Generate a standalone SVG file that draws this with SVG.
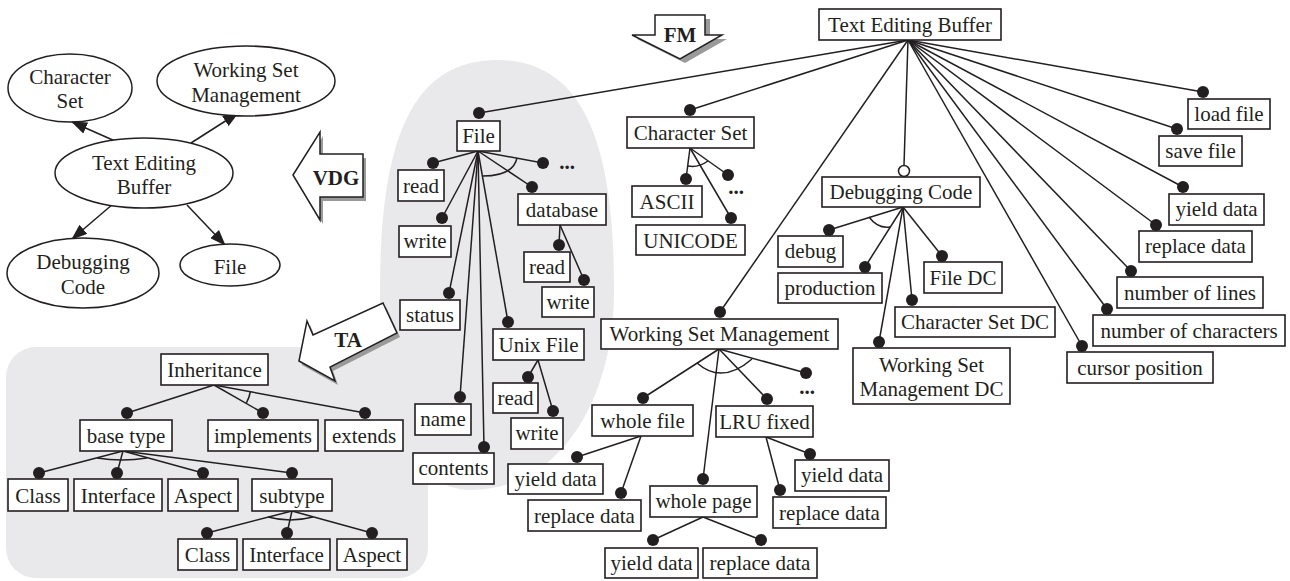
<svg xmlns="http://www.w3.org/2000/svg" width="1290" height="581" viewBox="0 0 1290 581">
<style>
.bg{fill:#e9e9eb}
.box{fill:#fff;stroke:#231f20;stroke-width:1.6}
.el{fill:#fff;stroke:#231f20;stroke-width:1.5}
.t{font-family:'Liberation Serif','DejaVu Serif',serif;font-size:21px;fill:#231f20;text-anchor:middle}
.b{font-weight:bold}
.ln{stroke:#231f20;stroke-width:1.5;fill:none}
.dot{fill:#231f20}
.hol{fill:#fff;stroke:#231f20;stroke-width:1.5}
.sh{fill:#9a9a9a}
.ar{fill:#fff;stroke:#231f20;stroke-width:1.5;stroke-linejoin:miter}
</style>
<defs>
<marker id="ah" viewBox="0 0 16 12" refX="15" refY="6" markerWidth="16" markerHeight="12" markerUnits="userSpaceOnUse" orient="auto"><path d="M0,0 L16,6 L0,12 Z" fill="#231f20"/></marker>
</defs>

<g id="background">
<path class="bg" d="M497,60 C587,60 614,150 614,290 C614,400 560,490 470,490 C410,490 380,400 380,290 C380,150 407,60 497,60 Z"/>
<rect class="bg" x="6" y="347" width="422" height="231" rx="30"/>
</g>

<g id="big-arrows">
<g id="arrow-fm">
<polygon class="sh" points="660,19 710,19 710,39 727,39 685,63 637,39 660,39"/>
<polygon class="ar" points="655,15 705,15 705,35 722,35 680,59 632,35 655,35"/>
<text class="t b" x="680" y="42" font-family="Liberation Serif, serif">FM</text>
</g>
<g id="arrow-vdg">
<polygon class="sh" points="296,179 323,136 323,158 366,158 366,201 323,201 323,224"/>
<polygon class="ar" points="293,175 320,132 320,154 363,154 363,197 320,197 320,220"/>
<text class="t b" x="336" y="185">VDG</text>
</g>
<g id="arrow-ta">
<polygon class="sh" points="302,365 310,325 316,339 386,307 400,337 333,371 338,385"/>
<polygon class="ar" points="299,361 307,321 313,335 383,303 397,333 330,367 335,381"/>
<text class="t b" x="348" y="347">TA</text>
</g>
</g>

<g id="connectors">
<line class="ln" x1="115" y1="141" x2="72" y2="122" marker-end="url(#ah)"/>
<line class="ln" x1="191" y1="143" x2="238" y2="113" marker-end="url(#ah)"/>
<line class="ln" x1="113" y1="204" x2="72" y2="239" marker-end="url(#ah)"/>
<line class="ln" x1="187" y1="205" x2="225" y2="245" marker-end="url(#ah)"/>
<line class="ln" x1="908" y1="40" x2="479" y2="113"/>
<line class="ln" x1="908" y1="40" x2="690" y2="110"/>
<line class="ln" x1="908" y1="40" x2="720" y2="312"/>
<line class="ln" x1="908" y1="40" x2="904" y2="165"/>
<line class="ln" x1="908" y1="40" x2="1203" y2="92"/>
<line class="ln" x1="908" y1="40" x2="1177" y2="129"/>
<line class="ln" x1="908" y1="40" x2="1183" y2="187"/>
<line class="ln" x1="908" y1="40" x2="1156" y2="225"/>
<line class="ln" x1="908" y1="40" x2="1131" y2="271"/>
<line class="ln" x1="908" y1="40" x2="1107" y2="309"/>
<line class="ln" x1="908" y1="40" x2="1082" y2="346"/>
<line class="ln" x1="478" y1="151" x2="433" y2="163"/>
<line class="ln" x1="478" y1="151" x2="442" y2="218"/>
<line class="ln" x1="478" y1="151" x2="449" y2="293"/>
<line class="ln" x1="478" y1="151" x2="460" y2="397"/>
<line class="ln" x1="478" y1="151" x2="484" y2="447"/>
<line class="ln" x1="478" y1="151" x2="508" y2="322"/>
<line class="ln" x1="478" y1="151" x2="532" y2="187"/>
<line class="ln" x1="478" y1="151" x2="543" y2="163"/>
<path class="ln" d="M483,176 Q513,176 517,158"/>
<line class="ln" x1="560" y1="225" x2="559" y2="245"/>
<line class="ln" x1="560" y1="225" x2="584" y2="280"/>
<line class="ln" x1="538" y1="360" x2="528" y2="377"/>
<line class="ln" x1="538" y1="360" x2="553" y2="411"/>
<line class="ln" x1="690" y1="148" x2="686" y2="179"/>
<line class="ln" x1="690" y1="148" x2="728" y2="175"/>
<line class="ln" x1="690" y1="148" x2="731" y2="218"/>
<path class="ln" d="M688,166 Q698,168 708,161"/>
<line class="ln" x1="719" y1="349" x2="643" y2="398"/>
<line class="ln" x1="719" y1="349" x2="703" y2="479"/>
<line class="ln" x1="719" y1="349" x2="767" y2="399"/>
<line class="ln" x1="719" y1="349" x2="806" y2="373"/>
<path class="ln" d="M697,363 Q722,385 752,359"/>
<line class="ln" x1="641" y1="436" x2="577" y2="457"/>
<line class="ln" x1="641" y1="436" x2="621" y2="493"/>
<line class="ln" x1="703" y1="517" x2="653" y2="540"/>
<line class="ln" x1="703" y1="517" x2="761" y2="540"/>
<line class="ln" x1="766" y1="437" x2="810" y2="454"/>
<line class="ln" x1="766" y1="437" x2="780" y2="490"/>
<line class="ln" x1="903" y1="207" x2="829" y2="230"/>
<line class="ln" x1="903" y1="207" x2="865" y2="267"/>
<line class="ln" x1="903" y1="207" x2="879" y2="342"/>
<line class="ln" x1="903" y1="207" x2="912" y2="300"/>
<line class="ln" x1="903" y1="207" x2="942" y2="256"/>
<path class="ln" d="M869,217 Q878,229 890,227"/>
<line class="ln" x1="214" y1="385" x2="127" y2="413"/>
<line class="ln" x1="214" y1="385" x2="263" y2="413"/>
<line class="ln" x1="214" y1="385" x2="365" y2="413"/>
<path class="ln" d="M246.4,402.9 A37,37 0 0 0 250.4,391.5"/>
<line class="ln" x1="123" y1="451" x2="39" y2="473"/>
<line class="ln" x1="123" y1="451" x2="117" y2="473"/>
<line class="ln" x1="123" y1="451" x2="203" y2="473"/>
<line class="ln" x1="123" y1="451" x2="292" y2="473"/>
<path class="ln" d="M97,458 Q122,462 147,458"/>
<line class="ln" x1="292" y1="511" x2="207" y2="533"/>
<line class="ln" x1="292" y1="511" x2="287" y2="533"/>
<line class="ln" x1="292" y1="511" x2="372" y2="533"/>
<path class="ln" d="M268,517 Q290,523 313,517"/>
<circle class="dot" cx="479" cy="113" r="6"/>
<circle class="dot" cx="690" cy="110" r="6"/>
<circle class="dot" cx="720" cy="312" r="6"/>
<circle class="hol" cx="904" cy="171" r="5.5"/>
<circle class="dot" cx="1203" cy="92" r="6"/>
<circle class="dot" cx="1177" cy="129" r="6"/>
<circle class="dot" cx="1183" cy="187" r="6"/>
<circle class="dot" cx="1156" cy="225" r="6"/>
<circle class="dot" cx="1131" cy="271" r="6"/>
<circle class="dot" cx="1107" cy="309" r="6"/>
<circle class="dot" cx="1082" cy="346" r="6"/>
<circle class="dot" cx="433" cy="163" r="6"/>
<circle class="dot" cx="442" cy="218" r="6"/>
<circle class="dot" cx="449" cy="293" r="6"/>
<circle class="dot" cx="460" cy="397" r="6"/>
<circle class="dot" cx="484" cy="447" r="6"/>
<circle class="dot" cx="508" cy="322" r="6"/>
<circle class="dot" cx="532" cy="187" r="6"/>
<circle class="dot" cx="543" cy="163" r="6"/>
<circle class="dot" cx="559" cy="245" r="6"/>
<circle class="dot" cx="584" cy="280" r="6"/>
<circle class="dot" cx="528" cy="377" r="6"/>
<circle class="dot" cx="553" cy="411" r="6"/>
<circle class="dot" cx="686" cy="179" r="6"/>
<circle class="dot" cx="728" cy="175" r="6"/>
<circle class="dot" cx="731" cy="218" r="6"/>
<circle class="dot" cx="643" cy="398" r="6"/>
<circle class="dot" cx="703" cy="479" r="6"/>
<circle class="dot" cx="767" cy="399" r="6"/>
<circle class="dot" cx="806" cy="373" r="6"/>
<circle class="dot" cx="577" cy="457" r="6"/>
<circle class="dot" cx="621" cy="493" r="6"/>
<circle class="dot" cx="653" cy="540" r="6"/>
<circle class="dot" cx="761" cy="540" r="6"/>
<circle class="dot" cx="810" cy="454" r="6"/>
<circle class="dot" cx="780" cy="490" r="6"/>
<circle class="dot" cx="829" cy="230" r="6"/>
<circle class="dot" cx="865" cy="267" r="6"/>
<circle class="dot" cx="879" cy="342" r="6"/>
<circle class="dot" cx="912" cy="300" r="6"/>
<circle class="dot" cx="942" cy="256" r="6"/>
<circle class="dot" cx="127" cy="413" r="6"/>
<circle class="dot" cx="263" cy="413" r="6"/>
<circle class="dot" cx="365" cy="413" r="6"/>
<circle class="dot" cx="39" cy="473" r="6"/>
<circle class="dot" cx="117" cy="473" r="6"/>
<circle class="dot" cx="203" cy="473" r="6"/>
<circle class="dot" cx="292" cy="473" r="6"/>
<circle class="dot" cx="207" cy="533" r="6"/>
<circle class="dot" cx="287" cy="533" r="6"/>
<circle class="dot" cx="372" cy="533" r="6"/>
</g>

<g id="vdg-nodes">
<g id="vdg-character-set"><ellipse class="el" cx="70" cy="88" rx="62" ry="34"/><text class="t" x="70" y="84">Character</text><text class="t" x="70" y="108">Set</text></g>
<g id="vdg-working-set"><ellipse class="el" cx="246" cy="81" rx="89" ry="35"/><text class="t" x="246" y="77">Working Set</text><text class="t" x="246" y="102">Management</text></g>
<g id="vdg-text-editing-buffer"><ellipse class="el" cx="144" cy="173" rx="89" ry="35"/><text class="t" x="144" y="170">Text Editing</text><text class="t" x="144" y="194">Buffer</text></g>
<g id="vdg-debugging-code"><ellipse class="el" cx="83" cy="273" rx="76" ry="35"/><text class="t" x="83" y="269">Debugging</text><text class="t" x="83" y="294">Code</text></g>
<g id="vdg-file"><ellipse class="el" cx="230" cy="265" rx="50" ry="21"/><text class="t" x="230" y="274">File</text></g>
</g>

<g id="fm-nodes">
<g id="n-teb"><rect class="box" x="819" y="9" width="182" height="31"/><text class="t" x="910" y="32">Text Editing Buffer</text></g>
<g id="n-file"><rect class="box" x="457" y="121" width="43" height="30"/><text class="t" x="478.5" y="143">File</text></g>
<g id="n-file-read"><rect class="box" x="398" y="170" width="46" height="31"/><text class="t" x="421" y="193">read</text></g>
<g id="n-file-write"><rect class="box" x="399" y="226" width="52" height="31"/><text class="t" x="425" y="248">write</text></g>
<g id="n-file-status"><rect class="box" x="400" y="300" width="60" height="30"/><text class="t" x="430" y="322">status</text></g>
<g id="n-file-name"><rect class="box" x="415" y="404" width="56" height="31"/><text class="t" x="443" y="426">name</text></g>
<g id="n-file-contents"><rect class="box" x="413" y="453" width="81" height="31"/><text class="t" x="453.5" y="475">contents</text></g>
<g id="n-file-unix"><rect class="box" x="493" y="329" width="91" height="31"/><text class="t" x="538.5" y="352">Unix File</text></g>
<g id="n-file-database"><rect class="box" x="518" y="194" width="88" height="31"/><text class="t" x="562" y="217">database</text></g>
<g id="n-db-read"><rect class="box" x="524" y="252" width="46" height="30"/><text class="t" x="547" y="274">read</text></g>
<g id="n-db-write"><rect class="box" x="542" y="287" width="52" height="30"/><text class="t" x="568" y="309">write</text></g>
<g id="n-unix-read"><rect class="box" x="493" y="383" width="45" height="30"/><text class="t" x="515.5" y="405">read</text></g>
<g id="n-unix-write"><rect class="box" x="511" y="418" width="52" height="31"/><text class="t" x="537" y="440">write</text></g>
<g id="n-file-more"><text class="t b" x="567" y="169">...</text></g>
<g id="n-cs"><rect class="box" x="627" y="117" width="127" height="31"/><text class="t" x="690.5" y="140">Character Set</text></g>
<g id="n-ascii"><rect class="box" x="632" y="186" width="70" height="31"/><text class="t" x="667" y="209">ASCII</text></g>
<g id="n-unicode"><rect class="box" x="636" y="225" width="109" height="30"/><text class="t" x="690.5" y="248">UNICODE</text></g>
<g id="n-cs-more"><text class="t b" x="736" y="194">...</text></g>
<g id="n-wsm"><rect class="box" x="601" y="319" width="237" height="30"/><text class="t" x="719.5" y="341">Working Set Management</text></g>
<g id="n-wsm-more"><text class="t b" x="807" y="394">...</text></g>
<g id="n-wholefile"><rect class="box" x="592" y="405" width="101" height="31"/><text class="t" x="642.5" y="428">whole file</text></g>
<g id="n-wf-yield"><rect class="box" x="508" y="464" width="95" height="30"/><text class="t" x="555.5" y="486">yield data</text></g>
<g id="n-wf-replace"><rect class="box" x="528" y="500" width="113" height="31"/><text class="t" x="584.5" y="523">replace data</text></g>
<g id="n-wholepage"><rect class="box" x="650" y="486" width="107" height="31"/><text class="t" x="703.5" y="508">whole page</text></g>
<g id="n-wp-yield"><rect class="box" x="605" y="548" width="93" height="30"/><text class="t" x="651.5" y="570">yield data</text></g>
<g id="n-wp-replace"><rect class="box" x="703" y="548" width="114" height="30"/><text class="t" x="760" y="570">replace data</text></g>
<g id="n-lru"><rect class="box" x="716" y="406" width="97" height="31"/><text class="t" x="764.5" y="429">LRU fixed</text></g>
<g id="n-lru-yield"><rect class="box" x="795" y="460" width="94" height="31"/><text class="t" x="842" y="482">yield data</text></g>
<g id="n-lru-replace"><rect class="box" x="773" y="497" width="113" height="31"/><text class="t" x="829.5" y="520">replace data</text></g>
<g id="n-dc"><rect class="box" x="822" y="177" width="158" height="30"/><text class="t" x="901" y="199">Debugging Code</text></g>
<g id="n-debug"><rect class="box" x="778" y="236" width="65" height="31"/><text class="t" x="810.5" y="258">debug</text></g>
<g id="n-production"><rect class="box" x="778" y="273" width="104" height="30"/><text class="t" x="830" y="295">production</text></g>
<g id="n-wsmdc"><rect class="box" x="853" y="348" width="157" height="56"/><text class="t" x="931.5" y="372">Working Set</text><text class="t" x="931.5" y="396">Management DC</text></g>
<g id="n-csdc"><rect class="box" x="895" y="307" width="160" height="30"/><text class="t" x="975" y="329">Character Set DC</text></g>
<g id="n-filedc"><rect class="box" x="924" y="262" width="78" height="31"/><text class="t" x="963" y="285">File DC</text></g>
<g id="n-loadfile"><rect class="box" x="1188" y="99" width="82" height="30"/><text class="t" x="1229" y="121">load file</text></g>
<g id="n-savefile"><rect class="box" x="1159" y="136" width="83" height="30"/><text class="t" x="1200.5" y="158">save file</text></g>
<g id="n-yield"><rect class="box" x="1169" y="194" width="95" height="31"/><text class="t" x="1216.5" y="216">yield data</text></g>
<g id="n-replace"><rect class="box" x="1139" y="231" width="113" height="31"/><text class="t" x="1195.5" y="253">replace data</text></g>
<g id="n-nlines"><rect class="box" x="1117" y="277" width="146" height="31"/><text class="t" x="1190" y="300">number of lines</text></g>
<g id="n-nchars"><rect class="box" x="1093" y="315" width="192" height="31"/><text class="t" x="1189" y="338">number of characters</text></g>
<g id="n-cursor"><rect class="box" x="1067" y="352" width="146" height="31"/><text class="t" x="1140" y="375">cursor position</text></g>
</g>

<g id="ta-nodes">
<g id="t-inheritance"><rect class="box" x="161" y="354" width="107" height="31"/><text class="t" x="214.5" y="377">Inheritance</text></g>
<g id="t-basetype"><rect class="box" x="80" y="420" width="92" height="31"/><text class="t" x="126" y="443">base type</text></g>
<g id="t-implements"><rect class="box" x="208" y="420" width="110" height="31"/><text class="t" x="263" y="443">implements</text></g>
<g id="t-extends"><rect class="box" x="325" y="420" width="78" height="31"/><text class="t" x="364" y="443">extends</text></g>
<g id="t-bt-class"><rect class="box" x="8" y="479" width="60" height="32"/><text class="t" x="38" y="503">Class</text></g>
<g id="t-bt-interface"><rect class="box" x="74" y="479" width="88" height="32"/><text class="t" x="118" y="503">Interface</text></g>
<g id="t-bt-aspect"><rect class="box" x="168" y="479" width="70" height="32"/><text class="t" x="203" y="503">Aspect</text></g>
<g id="t-subtype"><rect class="box" x="252" y="479" width="80" height="32"/><text class="t" x="292" y="503">subtype</text></g>
<g id="t-st-class"><rect class="box" x="178" y="539" width="59" height="31"/><text class="t" x="207.5" y="562">Class</text></g>
<g id="t-st-interface"><rect class="box" x="243" y="539" width="87" height="31"/><text class="t" x="286.5" y="562">Interface</text></g>
<g id="t-st-aspect"><rect class="box" x="337" y="539" width="70" height="31"/><text class="t" x="372" y="562">Aspect</text></g>
</g>
</svg>
